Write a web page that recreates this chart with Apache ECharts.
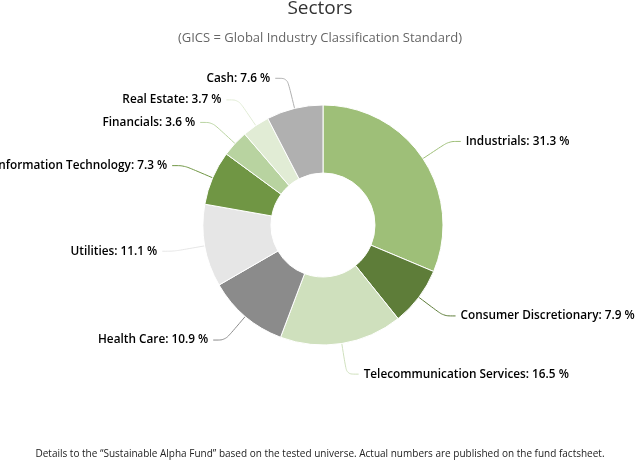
<!DOCTYPE html>
<html>
<head>
<meta charset="utf-8">
<script src="https://cdn.jsdelivr.net/npm/echarts@6/dist/echarts.min.js"></script>
<style>
  html, body { margin: 0; padding: 0; background: #fff; }
  #sectors-echarts { width: 640px; height: 471px; }
</style>
</head>
<body>
<div id="sectors-echarts"></div>
<script>
// sector shares, clockwise from 12 o'clock
const sectors = ['Industrials', 'Consumer Discretionary', 'Telecommunication Services', 'Health Care',
  'Utilities', 'Information Technology', 'Financials', 'Real Estate', 'Cash']
const shares = [31.3, 7.9, 16.5, 10.9, 11.1, 7.3, 3.6, 3.7, 7.6]
const sliceColors = ['#9ebf78', '#5e7d39', '#cfe0bd', '#8b8b8b', '#e6e6e6', '#709644', '#b8d3a0', '#e1ecd5', '#b0b0b0']

const font = 'Open Sans, Noto Sans, sans-serif'

let option = {
  animation: false,
  title: [{
    text: 'Sectors',
    subtext: '(GICS = Global Industry Classification Standard)',
    left: 'center',
    top: -6,
    itemGap: 14,
    textStyle: { fontFamily: font, fontSize: 19, fontWeight: 'normal', color: '#333' },
    subtextStyle: { fontFamily: font, fontSize: 13, color: '#666' }
  }, {
    text: 'Details to the \u201cSustainable Alpha Fund\u201d based on the tested universe. Actual numbers are published on the fund factsheet.',
    left: 'center',
    top: 444,
    textStyle: { fontFamily: font, fontSize: 10, fontWeight: 'normal', color: '#222' }
  }],
  series: [{
    type: 'pie',
    center: [323, 225],
    radius: [52, 120],
    startAngle: 90,
    clockwise: true,
    avoidLabelOverlap: false,
    emphasis: { disabled: true },
    itemStyle: { borderColor: '#fff', borderWidth: 1 },
    label: {
      show: true,
      position: 'outside',
      formatter: '{b}: {c} %',
      fontFamily: font,
      fontSize: 11.8,
      fontWeight: 600,
      color: '#000',
      distanceToLabelLine: 5
    },
    labelLine: {
      show: true,
      length: 31,
      length2: 12,
      smooth: 0.3,
      lineStyle: { width: 1 }
    },
    data: sectors.map((name, i) => ({
      name: name,
      value: shares[i],
      itemStyle: { color: sliceColors[i] }
    }))
  }]
}

const myChart = echarts.init(document.getElementById('sectors-echarts'))
myChart.setOption(option)
</script>
</body>
</html>
